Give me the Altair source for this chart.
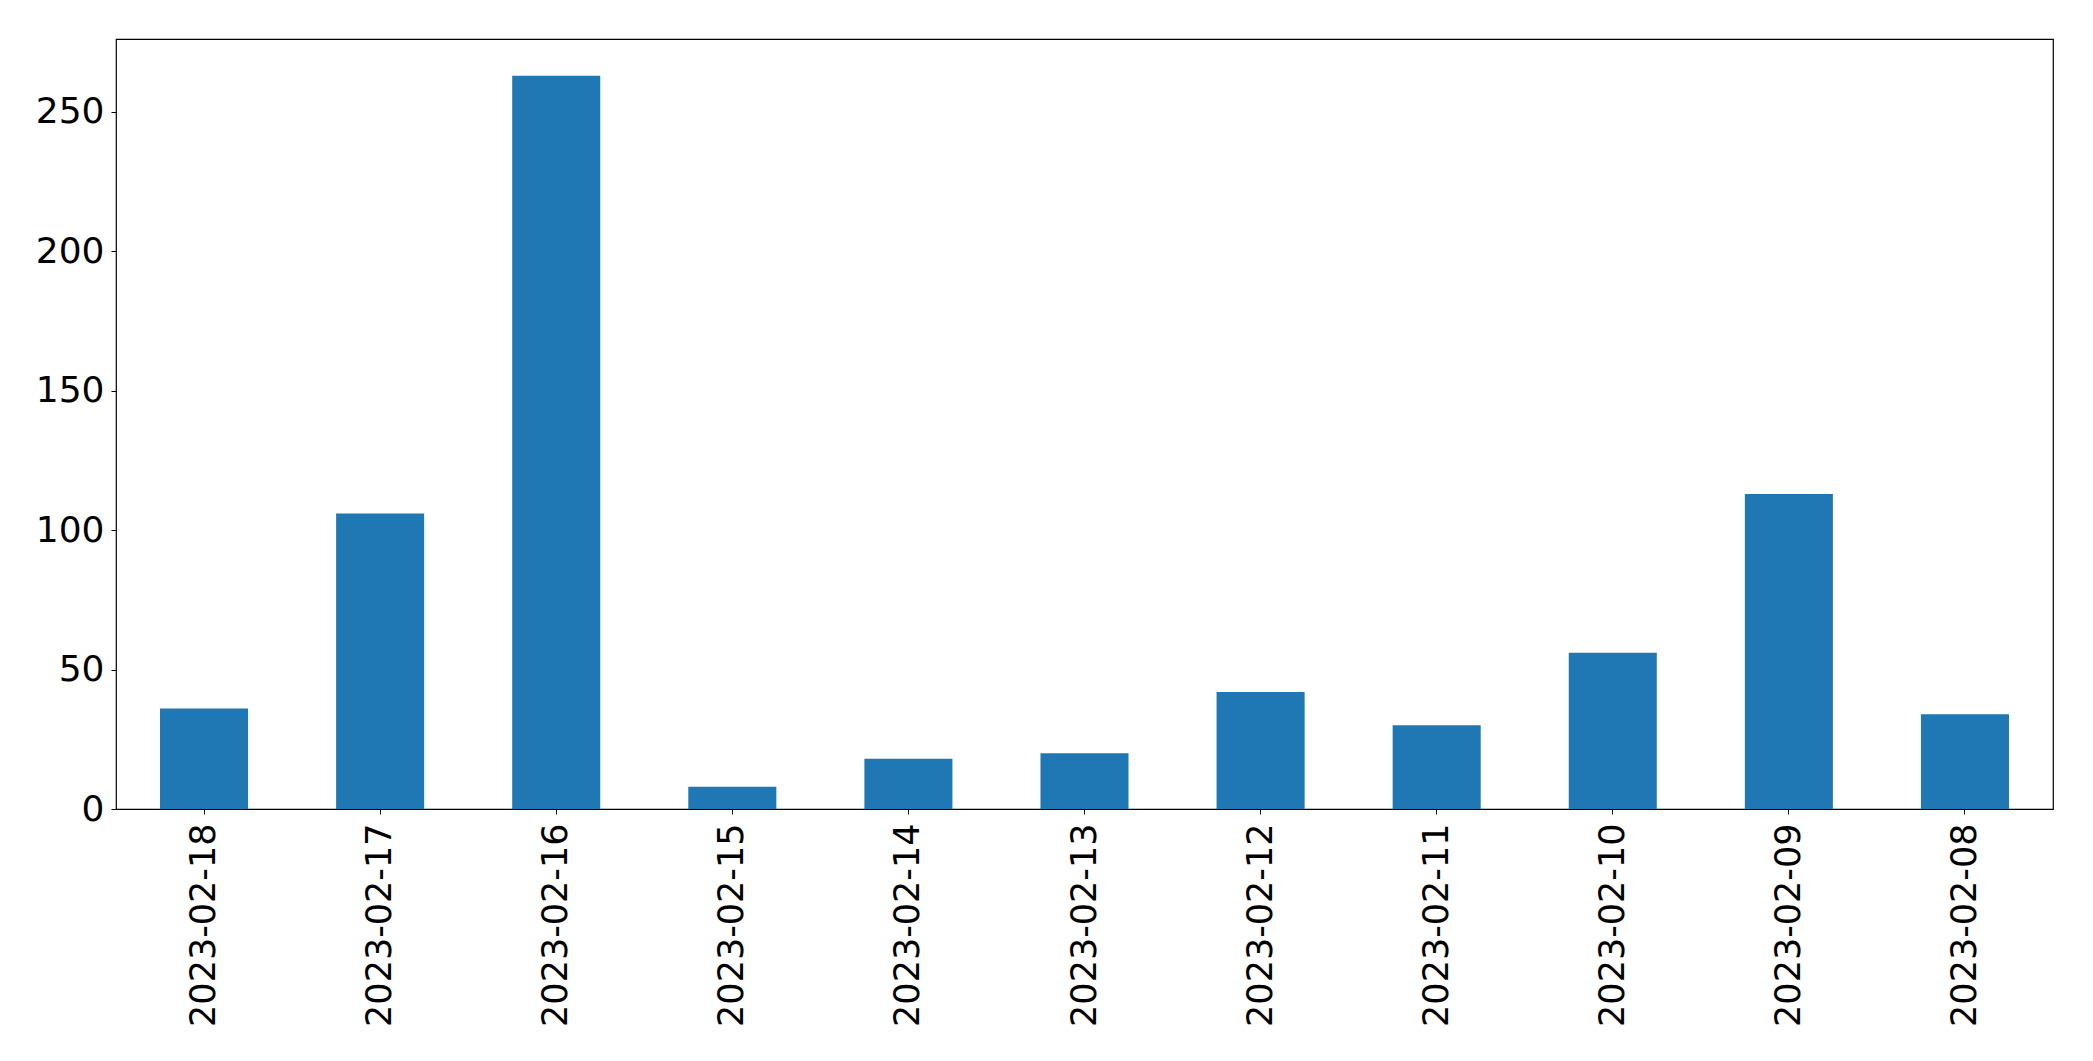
import altair as alt
import pandas as pd

dates = ["2023-02-18", "2023-02-17", "2023-02-16", "2023-02-15", "2023-02-14",
         "2023-02-13", "2023-02-12", "2023-02-11", "2023-02-10", "2023-02-09",
         "2023-02-08"]
counts = [36, 106, 263, 8, 18, 20, 42, 30, 56, 113, 34]

df = pd.DataFrame({"date": dates, "count": counts})

FONT = "DejaVu Sans"

chart = alt.Chart(df).mark_bar(color="#1f77b4").encode(
    x=alt.X("date:N", sort=dates, title=None,
            scale=alt.Scale(paddingInner=0.5, paddingOuter=0.25),
            axis=alt.Axis(labelAngle=270, labelFontSize=35, labelFont=FONT,
                          labelColor="black", tickColor="black", tickSize=5,
                          labelPadding=9, labelLimit=1000, domain=False)),
    y=alt.Y("count:Q", title=None,
            scale=alt.Scale(domain=[0, 276.15], nice=False, zero=True),
            axis=alt.Axis(values=[0, 50, 100, 150, 200, 250], labelFontSize=36,
                          labelFont=FONT, labelColor="black", tickColor="black",
                          tickSize=5, labelPadding=7, grid=False, domain=False)),
).properties(
    width=1937, height=770,
    autosize=alt.AutoSizeParams(type="none"),
    padding={"left": 108, "top": 31, "right": 24, "bottom": 230},
).configure_view(stroke="black", strokeWidth=1.2)

chart.save("out.html", embed_options={"renderer": "svg", "actions": False})
